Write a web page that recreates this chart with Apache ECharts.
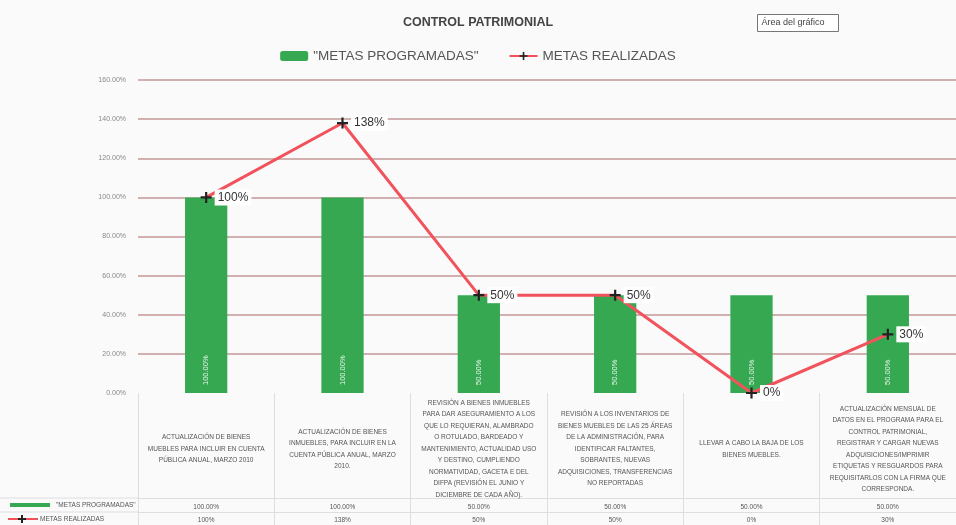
<!DOCTYPE html>
<html>
<head>
<meta charset="utf-8">
<script src="https://cdn.jsdelivr.net/npm/echarts@6/dist/echarts.min.js"></script>
<style>
  html, body { margin: 0; background: #fafafa; }
  #chart { width: 956px; height: 525px; }
</style>
</head>
<body>
<div id="chart"></div>
<script>
// datos
const categorias = [
  'ACTUALIZACIÓN DE BIENES\nMUEBLES PARA INCLUIR EN CUENTA\nPÚBLICA ANUAL, MARZO 2010',
  'ACTUALIZACIÓN DE BIENES\nINMUEBLES, PARA INCLUIR EN LA\nCUENTA PÚBLICA ANUAL, MARZO\n2010.',
  'REVISIÓN A BIENES INMUEBLES\nPARA DAR ASEGURAMIENTO A LOS\nQUE LO REQUIERAN, ALAMBRADO\nO ROTULADO, BARDEADO Y\nMANTENIMIENTO, ACTUALIDAD USO\nY DESTINO, CUMPLIENDO\nNORMATIVIDAD, GACETA E DEL\nDIFPA (REVISIÓN EL JUNIO Y\nDICIEMBRE DE CADA AÑO).',
  'REVISIÓN A LOS INVENTARIOS DE\nBIENES MUEBLES DE LAS 25 ÁREAS\nDE LA ADMINISTRACIÓN, PARA\nIDENTIFICAR FALTANTES,\nSOBRANTES, NUEVAS\nADQUISICIONES, TRANSFERENCIAS\nNO REPORTADAS',
  'LLEVAR A CABO LA BAJA DE LOS\nBIENES MUEBLES.',
  'ACTUALIZACIÓN MENSUAL DE\nDATOS EN EL PROGRAMA PARA EL\nCONTROL PATRIMONIAL,\nREGISTRAR Y CARGAR NUEVAS\nADQUISICIONES/IMPRIMIR\nETIQUETAS Y RESGUARDOS PARA\nREQUISITARLOS CON LA FIRMA QUE\nCORRESPONDA.'
]
const metasProgramadas = [1, 1, 0.5, 0.5, 0.5, 0.5]
const metasRealizadas = [1, 1.38, 0.5, 0.5, 0, 0.3]

const pct2 = v => (v * 100).toFixed(2) + '%'
const pct0 = v => Math.round(v * 100) + '%'

const fuente = "'Liberation Sans', Arial, sans-serif"
const fuenteAngosta = "'Liberation Sans Narrow', 'Liberation Sans', sans-serif"
const verde = '#36a852'
const rojo = '#f2525c'
const lineaTabla = '#dedede'
const cruz = 'path://M4,0H6V4H10V6H6V10H4V6H0V4H4Z'

const chart = echarts.init(document.getElementById('chart'))
chart.setOption({
  backgroundColor: '#fafafa',
  textStyle: { fontFamily: fuente },
  title: {
    text: 'CONTROL PATRIMONIAL',
    left: 'center',
    top: 11,
    textStyle: { fontSize: 12.5, fontWeight: 'bold', color: '#444', fontFamily: fuenteAngosta }
  },
  legend: {
    top: 44,
    left: 'center',
    itemGap: 30,
    itemWidth: 28,
    itemHeight: 10,
    textStyle: { fontSize: 13.5, color: '#555', fontFamily: fuenteAngosta },
    data: ['"METAS PROGRAMADAS"', 'METAS REALIZADAS']
  },
  grid: { left: 138, right: -8, top: 80, bottom: 132 },
  xAxis: [
    {
      type: 'category',
      data: categorias,
      axisLine: { show: false },
      axisTick: { show: true, length: 132, lineStyle: { color: lineaTabla } },
      axisLabel: {
        interval: 0,
        margin: 56,
        fontSize: 6.5,
        lineHeight: 11.5,
        color: '#555',
        align: 'center',
        verticalAlign: 'middle'
      }
    },
    {
      type: 'category',
      position: 'bottom',
      offset: 105,
      data: metasProgramadas.map(pct2),
      axisLine: { show: true, lineStyle: { color: lineaTabla } },
      axisTick: { show: false },
      axisLabel: { interval: 0, margin: 6, fontSize: 6.5, color: '#555' }
    },
    {
      type: 'category',
      position: 'bottom',
      offset: 119,
      data: metasRealizadas.map(pct0),
      axisLine: { show: true, lineStyle: { color: lineaTabla } },
      axisTick: { show: false },
      axisLabel: { interval: 0, margin: 5, fontSize: 6.5, color: '#555' }
    }
  ],
  yAxis: {
    type: 'value',
    min: 0,
    max: 1.6,
    interval: 0.2,
    axisLine: { show: false },
    axisTick: { show: false },
    axisLabel: {
      margin: 12,
      fontSize: 7,
      color: '#888',
      formatter: v => pct2(v)
    },
    splitLine: {
      lineStyle: {
        width: 2,
        color: ['transparent', '#d2b0b0', '#d2b0b0', '#d2b0b0', '#d2b0b0', '#d2b0b0', '#d2b0b0', '#d2b0b0', '#d2b0b0']
      }
    }
  },
  series: [
    {
      name: '"METAS PROGRAMADAS"',
      type: 'bar',
      barWidth: '31%',
      itemStyle: { color: verde },
      label: {
        show: true,
        position: 'insideBottom',
        rotate: 90,
        align: 'left',
        verticalAlign: 'middle',
        distance: 8,
        fontSize: 7.5,
        color: '#e8f5ea',
        formatter: p => pct2(p.value)
      },
      data: metasProgramadas
    },
    {
      name: 'METAS REALIZADAS',
      type: 'line',
      symbol: cruz,
      symbolSize: 11,
      itemStyle: { color: '#222' },
      lineStyle: { color: rojo, width: 3 },
      z: 3,
      label: {
        show: true,
        position: 'right',
        distance: 3,
        fontSize: 12,
        color: '#333',
        backgroundColor: '#fff',
        padding: [2, 3],
        formatter: p => pct0(p.value)
      },
      data: metasRealizadas
    }
  ],
  graphic: [
    // recuadro "Área del gráfico"
    {
      type: 'group',
      left: 757,
      top: 14,
      children: [
        { type: 'rect', shape: { width: 81, height: 17 }, style: { fill: '#fff', stroke: '#777', lineWidth: 1 } },
        { type: 'text', x: 4, y: 4, style: { text: 'Área del gráfico', fontSize: 9, fill: '#444', fontFamily: fuenteAngosta } }
      ]
    },
    // encabezados de la tabla de datos
    { type: 'line', shape: { x1: 0, y1: 498, x2: 138, y2: 498 }, style: { stroke: lineaTabla } },
    { type: 'line', shape: { x1: 0, y1: 512, x2: 138, y2: 512 }, style: { stroke: lineaTabla } },
    { type: 'rect', shape: { x: 10, y: 503, width: 40, height: 4 }, style: { fill: verde } },
    { type: 'text', x: 56, y: 502, style: { text: '"METAS PROGRAMADAS"', fontSize: 6.5, fill: '#555', fontFamily: fuente } },
    { type: 'line', shape: { x1: 8, y1: 519, x2: 38, y2: 519 }, style: { stroke: rojo, lineWidth: 2 } },
    { type: 'rect', shape: { x: 18, y: 518, width: 8, height: 2 }, style: { fill: '#222' } },
    { type: 'rect', shape: { x: 21, y: 515, width: 2, height: 8 }, style: { fill: '#222' } },
    { type: 'text', x: 40, y: 516, style: { text: 'METAS REALIZADAS', fontSize: 6.5, fill: '#555', fontFamily: fuente } }
  ]
})
</script>
</body>
</html>
